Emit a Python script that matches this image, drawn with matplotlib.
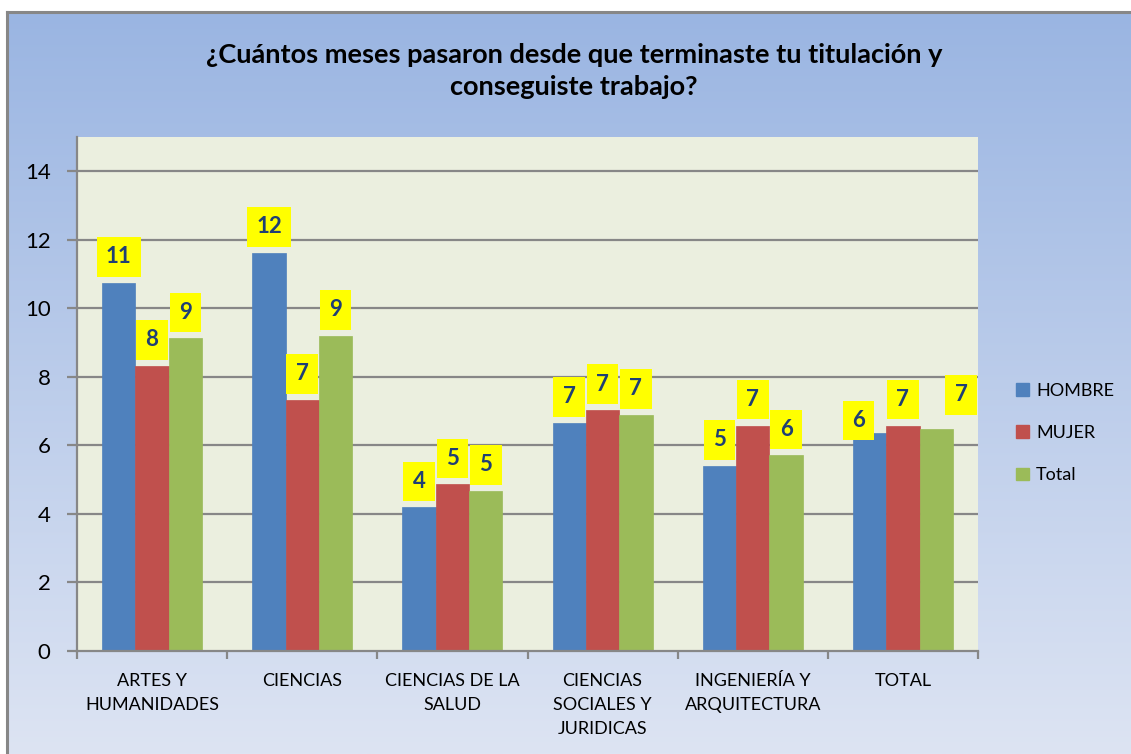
import numpy as np
import matplotlib
matplotlib.use("Agg")
import matplotlib.pyplot as plt
from matplotlib.colors import LinearSegmentedColormap
from matplotlib.patches import Patch

categories = ["ARTES Y\nHUMANIDADES", "CIENCIAS", "CIENCIAS DE LA\nSALUD",
              "CIENCIAS\nSOCIALES Y\nJURIDICAS", "INGENIERÍA Y\nARQUITECTURA", "TOTAL"]
series_names = ["HOMBRE", "MUJER", "Total"]
hombre = [10.74, 11.62, 4.19, 6.66, 5.40, 6.35]
mujer = [8.32, 7.33, 4.86, 7.03, 6.58, 6.58]
total = [9.12, 9.20, 4.67, 6.89, 5.71, 6.48]
labels_hombre = ["11", "12", "4", "7", "5", "6"]
labels_mujer = ["8", "7", "5", "7", "7", "7"]
labels_total = ["9", "9", "5", "7", "6", "7"]
yticks = [0, 2, 4, 6, 8, 10, 12, 14]
title = "¿Cuántos meses pasaron desde que terminaste tu titulación y\nconseguiste trabajo?"

colors = ["#4F81BD", "#C0504D", "#9BBB59"]
FONT = "Lato"
plt.rcParams["font.family"] = [FONT, "DejaVu Sans"]

W, H = 1131, 754
fig = plt.figure(figsize=(W / 100, H / 100), dpi=100)
fig.patch.set_facecolor("white")

# gradient background of the chart area
bg = fig.add_axes([7 / W, 0, 1 - 7 / W, (H - 12) / H])
cmap = LinearSegmentedColormap.from_list("bg", ["#9AB5E2", "#DDE4F3"])
grad = np.linspace(0, 1, 256).reshape(-1, 1)
bg.imshow(grad, aspect="auto", cmap=cmap, extent=[0, 1, 0, 1], origin="upper")
bg.set_xlim(0, 1); bg.set_ylim(0, 1)
bg.axis("off")
bg.plot([0, 0], [0, 1], color="#878787", lw=2.2, transform=bg.transAxes, clip_on=False)
bg.plot([0, 1], [1, 1], color="#878787", lw=2.2, transform=bg.transAxes, clip_on=False)

ax = fig.add_axes([77 / W, (H - 651) / H, 901 / W, (651 - 137) / H])
ax.set_facecolor("#EBEFDF")
x = np.arange(len(categories))
bw = 0.222
all_series = [hombre, mujer, total]
all_labels = [labels_hombre, labels_mujer, labels_total]
# label offsets in pixels (dx, dy) from bar top
offsets = {(5, 0): (-11, 13), (5, 2): (25, 34)}

for gl in yticks[1:]:
    ax.axhline(gl, color="#878787", lw=1.6, zorder=1)

for i, (vals, labs) in enumerate(zip(all_series, all_labels)):
    xs = x + (i - 1) * bw
    ax.bar(xs, vals, width=bw, color=colors[i], edgecolor=colors[i], lw=0.5,
           zorder=2, label=series_names[i])
    for j, (xv, v, lab) in enumerate(zip(xs, vals, labs)):
        dx, dy = offsets.get((j, i), (0, 26))
        ax.annotate(lab, (xv, v), xytext=(dx * 0.72, dy * 0.72), textcoords="offset points",
                    ha="center", va="center", fontsize=16, fontweight="bold",
                    color="#1F3F75", zorder=5,
                    bbox=dict(boxstyle="square,pad=0.42", fc="#FFFF00", ec="none"))

ax.set_xlim(-0.5, len(categories) - 0.5)
ax.set_ylim(0, 15)
ax.set_yticks(yticks)
ax.set_yticklabels([str(t) for t in yticks], fontsize=16)
ax.set_xticks(np.arange(-0.5, len(categories)), minor=False)
ax.set_xticklabels([])
ax.set_xticks(x, minor=True)
ax.set_xticklabels(categories, minor=True, fontsize=13, linespacing=1.6, va="top")
ax.tick_params(axis="x", which="minor", length=0, pad=16)
ax.tick_params(axis="x", which="major", length=6, width=1.6, color="#878787", direction="out")
ax.tick_params(axis="y", length=7, width=1.6, color="#878787", pad=12)
for s in ["top", "right"]:
    ax.spines[s].set_visible(False)
for s in ["left", "bottom"]:
    ax.spines[s].set_color("#878787")
    ax.spines[s].set_linewidth(1.6)

fig.text(574 / W, 1 - 71 / H, title, ha="center", va="center", fontsize=19.5,
         fontweight="bold", linespacing=1.42)

handles = [Patch(facecolor=c, edgecolor=c) for c in colors]
fig.legend(handles, series_names, loc="center left", bbox_to_anchor=(1000 / W, 1 - 433 / H),
           frameon=False, fontsize=13, handlelength=0.7, handleheight=0.7,
           handletextpad=0.4, labelspacing=1.45)

fig.savefig("out.png", dpi=100)
